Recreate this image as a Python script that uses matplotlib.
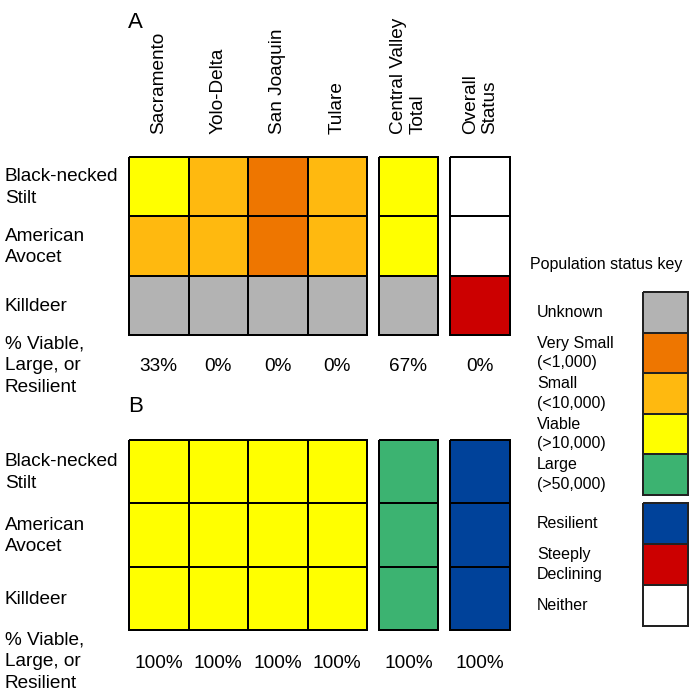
import matplotlib
matplotlib.use("Agg")
import matplotlib.pyplot as plt
from matplotlib.colors import ListedColormap, BoundaryNorm
import numpy as np

plt.rcParams['font.family'] = ['Liberation Sans', 'DejaVu Sans']

# ---------------- data ----------------
regions = ["Sacramento", "Yolo-Delta", "San Joaquin", "Tulare"]
total_label = "Central Valley\nTotal"
overall_label = "Overall\nStatus"
species = ["Black-necked\nStilt", "American\nAvocet", "Killdeer"]
pct_row_label = "% Viable,\nLarge, or\nResilient"

status_names = ["Unknown", "Very Small\n(<1,000)", "Small\n(<10,000)", "Viable\n(>10,000)",
                "Large\n(>50,000)", "Resilient", "Steeply\nDeclining", "Neither"]
status_colors = ["#B3B3B3", "#EE7600", "#FFB90F", "#FFFF00", "#3CB371",
                 "#00429A", "#CC0000", "#FFFFFF"]
size_keys = ["Unknown", "Very Small", "Small", "Viable", "Large"]
trend_keys = ["Resilient", "Steeply Declining", "Neither"]
code = {"Unknown": 0, "Very Small": 1, "Small": 2, "Viable": 3, "Large": 4,
        "Resilient": 5, "Steeply Declining": 6, "Neither": 7}

# Panel A
A_regions = [["Viable", "Small", "Very Small", "Small"],
             ["Small", "Small", "Very Small", "Small"],
             ["Unknown", "Unknown", "Unknown", "Unknown"]]
A_total = ["Viable", "Viable", "Unknown"]
A_overall = ["Neither", "Neither", "Steeply Declining"]
A_pct = ["33%", "0%", "0%", "0%", "67%", "0%"]

# Panel B
B_regions = [["Viable", "Viable", "Viable", "Viable"],
             ["Viable", "Viable", "Viable", "Viable"],
             ["Viable", "Viable", "Viable", "Viable"]]
B_total = ["Large", "Large", "Large"]
B_overall = ["Resilient", "Resilient", "Resilient"]
B_pct = ["100%", "100%", "100%", "100%", "100%", "100%"]

# ---------------- layout ----------------
W, H = 689, 694
fig = plt.figure(figsize=(W / 100, H / 100), dpi=100)

cmap = ListedColormap(status_colors)
norm = BoundaryNorm(np.arange(-0.5, 8.5, 1), cmap.N)
FS = 13.7
LFS = 11.5
LS = 1.38


def fx(x):
    return x / W


def fy(y):
    return 1 - y / H


def block(x0, x1, y0, y1, grid):
    ax = fig.add_axes([fx(x0), fy(y1), fx(x1) - fx(x0), fy(y0) - fy(y1)])
    arr = np.array([[code[s] for s in row] for row in grid])
    m = ax.pcolormesh(arr, cmap=cmap, norm=norm, edgecolors="black", linewidth=1.3)
    m.set_clip_on(False)
    ax.set_xlim(0, arr.shape[1])
    ax.set_ylim(arr.shape[0], 0)
    ax.axis("off")
    return ax


col_x = [(129, 367), (379, 438), (450, 510)]
col_centers = [129 + (367 - 129) / 4 * (i + 0.5) for i in range(4)] + [408.5, 480]


def panel(ytop, ybot, reg, tot, ovr, pct, pct_y, letter, letter_y):
    block(col_x[0][0], col_x[0][1], ytop, ybot, reg)
    block(col_x[1][0], col_x[1][1], ytop, ybot, [[s] for s in tot])
    block(col_x[2][0], col_x[2][1], ytop, ybot, [[s] for s in ovr])
    rh = (ybot - ytop) / 3
    for i, sp in enumerate(species):
        fig.text(fx(5), fy(ytop + rh * (i + 0.5) + 1), sp, fontsize=FS, ha="left",
                 va="center", linespacing=LS)
    fig.text(fx(5), fy(pct_y), pct_row_label, fontsize=FS, ha="left", va="center",
             linespacing=LS)
    for cx, p in zip(col_centers, pct):
        fig.text(fx(cx), fy(pct_y + 1), p, fontsize=FS, ha="center", va="center")
    fig.text(fx(128), fy(letter_y), letter, fontsize=16, ha="left", va="center")


panel(157, 335, A_regions, A_total, A_overall, A_pct, 366, "A", 22)
panel(440, 630, B_regions, B_total, B_overall, B_pct, 662, "B", 406)

# column headers
headers = regions + [total_label, overall_label]
for cx, h in zip(col_centers, headers):
    fig.text(fx(cx), fy(134), h, fontsize=FS, rotation=90, ha="center", va="bottom",
             linespacing=1.2, multialignment="left")

# ---------------- legend ----------------
fig.text(fx(530), fy(265), "Population status key", fontsize=LFS, ha="left", va="center")


def legend_block(keys, y0, y1):
    ax = fig.add_axes([fx(643), fy(y1), fx(688) - fx(643), fy(y0) - fy(y1)])
    arr = np.array([[code[k]] for k in keys])
    m = ax.pcolormesh(arr, cmap=cmap, norm=norm, edgecolors="#222222", linewidth=1.3)
    m.set_clip_on(False)
    ax.set_xlim(0, 1)
    ax.set_ylim(len(keys), 0)
    ax.axis("off")
    rh = (y1 - y0) / len(keys)
    for i, k in enumerate(keys):
        fig.text(fx(537), fy(y0 + rh * (i + 0.5)), status_names[code[k]], fontsize=LFS,
                 ha="left", va="center", linespacing=1.38)


legend_block(size_keys, 292, 495)
legend_block(trend_keys, 503, 626)

fig.savefig("out.png", dpi=100)
